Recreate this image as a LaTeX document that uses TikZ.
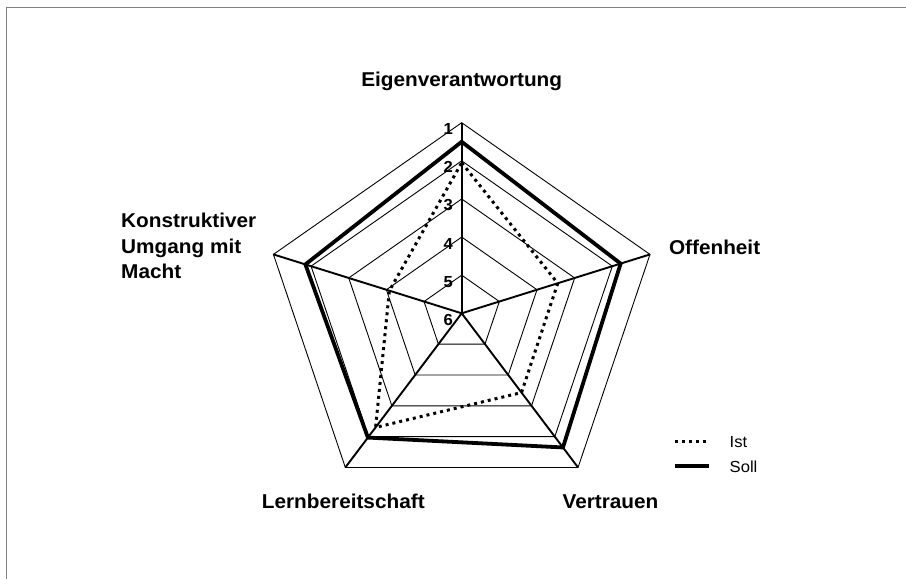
\documentclass[tikz,border=0pt]{standalone}
\usepackage{fontspec}
\setmainfont{Liberation Sans}
\begin{document}
\begin{tikzpicture}[x=1pt,y=-1pt,
  axislabel/.style={font=\fontsize{20}{24}\selectfont\bfseries, inner sep=0pt, anchor=base, xscale=1.0386},
  ticklabel/.style={font=\fontsize{16}{19}\selectfont\bfseries, inner sep=0pt, anchor=east, xscale=1.0386},
  legendlabel/.style={font=\fontsize{16}{19}\selectfont, inner sep=0pt, anchor=base west, xscale=1.0386},
  ring/.style={draw=black, line width=0.9pt},
  spoke/.style={draw=black, line width=1.9pt},
  soll/.style={draw=black, line width=3.8pt, line join=miter},
  ist/.style={draw=black, line width=3pt, dash pattern=on 3pt off 4pt},
  frame/.style={draw=gray, line width=1.2pt},
]
\useasboundingbox (0,0) rectangle (906,579);

% chart frame (left and top edges)
\coordinate (fb) at (6.5,579);
\coordinate (ftl) at (6.5,7.5);
\coordinate (ftr) at (906,7.5);
\draw[frame] (fb) -- (ftl) -- (ftr);

% radar grid and data series
\begin{scope}[shift={(461.7,313.3)}, xscale=1.0386]
  \coordinate (O) at (0,0);
  % concentric pentagons, one per scale step (38.12 per step)
  \foreach \l in {1,...,5} {
    \draw[ring] (-90:{\l*38.12}) -- (-18:{\l*38.12}) -- (54:{\l*38.12})
      -- (126:{\l*38.12}) -- (198:{\l*38.12}) -- cycle;
  }
  % spokes
  \foreach \k in {0,...,4} {
    \coordinate (v\k) at ({-90+72*\k}:190.6);
    \draw[spoke] (O) -- (v\k);
  }
  % Ist
  \coordinate (i0) at (-90:150.57);
  \coordinate (i1) at (-18:97.21);
  \coordinate (i2) at (54:97.97);
  \coordinate (i3) at (126:141.04);
  \coordinate (i4) at (198:73.19);
  \draw[ist] (i0) -- (i1) -- (i2) -- (i3) -- (i4) -- cycle;
  % Soll
  \coordinate (s0) at (-90:171.54);
  \coordinate (s1) at (-18:160.87);
  \coordinate (s2) at (54:165.82);
  \coordinate (s3) at (126:153.62);
  \coordinate (s4) at (198:158.20);
  \draw[soll] (s0) -- (s1) -- (s2) -- (s3) -- (s4) -- cycle;
\end{scope}

% scale labels
\foreach \n/\y in {1/129.2, 2/167.3, 3/205.4, 4/243.6, 5/281.7, 6/319.8} {
  \node[ticklabel] (t\n) at (453,\y) {\n};
}

% category labels
\node[axislabel] (eig) at (461.7,86) {Eigenverantwortung};
\node[axislabel] (off) at (714.6,254) {Offenheit};
\node[axislabel] (ver) at (610.5,508) {Vertrauen};
\node[axislabel] (lern) at (343.3,508) {Lernbereitschaft};
\node[axislabel, anchor=base west] (kon1) at (121,227.7) {Konstruktiver};
\node[axislabel, anchor=base west] (kon2) at (121,253) {Umgang mit};
\node[axislabel, anchor=base west] (kon3) at (121,278.3) {Macht};

% legend
\coordinate (li1) at (675,441.7);
\coordinate (li2) at (709.4,441.7);
\coordinate (ls1) at (675,466);
\coordinate (ls2) at (709.4,466);
\draw[ist] (li1) -- (li2);
\draw[soll] (ls1) -- (ls2);
\node[legendlabel] (list) at (729.5,447.5) {Ist};
\node[legendlabel] (lsoll) at (729.5,472.5) {Soll};
\end{tikzpicture}
\end{document}
